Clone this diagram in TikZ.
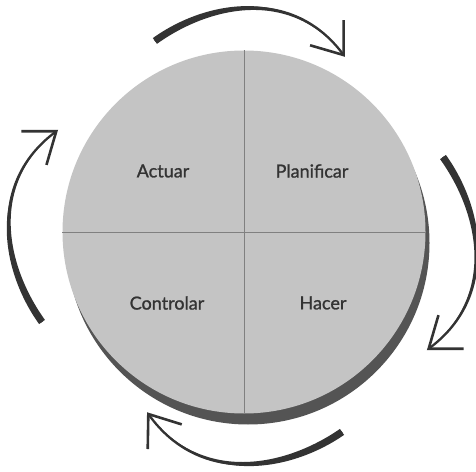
\documentclass[tikz,border=0pt]{standalone}
\usepackage{fontspec}
\setmainfont{Lato}
\usetikzlibrary{positioning, arrows.meta}

\definecolor{wheelgray}{gray}{0.77}
\definecolor{shadegray}{gray}{0.33}
\definecolor{inkgray}{gray}{0.2}

\tikzset{
    phase/.style={font=\fontsize{18}{21}\selectfont\addfontfeatures{FakeBold=1.2}, text=inkgray},
    crossline/.style={draw=black!50, line width=0.9pt},
    cyclearrow/.style={
        draw=inkgray,
        line width=2.3pt,
        -{Straight Barb[length=28pt, width=42pt, line width=2.6pt]}
    },
}

\begin{document}
\begin{tikzpicture}[x=1pt, y=1pt]
    \useasboundingbox (0,0) rectangle (476,471);

    % the wheel and its shadow
    \node[
        circle,
        fill=shadegray,
        minimum size=363pt,
        inner sep=0pt
    ] (shade) at (248,228) {};
    \node[
        circle,
        fill=wheelgray,
        minimum size=363pt,
        inner sep=0pt
    ] (wheel) at (244,239) {};
    \draw[crossline] (wheel.north) -- (wheel.south);
    \draw[crossline] (wheel.west) -- (wheel.east);

    % the four phases
    \node[phase] (actuar) at (163,300) {Actuar};
    \node[phase] (planificar) at (312,300) {Planificar};
    \node[phase] (controlar) at (167,168) {Controlar};
    \node[phase] (hacer) at (323,168) {Hacer};

    % arrows round the wheel, thick at the start and thin at the head
    \foreach \nm/\sx/\sy/\rot/\sc in {plan/244/235/0/0.99, hac/245/223.5/-90/1.005,
                                      con/254/241/179/1.017, act/239/239/90/1.0} {
        \begin{scope}[shift={(\sx,\sy)}, rotate=\rot, scale=\sc]
            \coordinate (from\nm) at (-90,197);
            \coordinate (pa\nm) at (-37,235);
            \coordinate (pb\nm) at (48,253);
            \coordinate (to\nm) at (102,181);
            \fill[inkgray] (-92.1,199.9) .. controls (-39.1,237.9) and (48,254.4) .. (to\nm)
                .. controls (48,251.6) and (-34.9,232.1) .. (-87.9,194.1) -- cycle;
            \draw[cyclearrow] (from\nm) .. controls (pa\nm) and (pb\nm) .. (to\nm);
        \end{scope}
    }
\end{tikzpicture}
\end{document}
